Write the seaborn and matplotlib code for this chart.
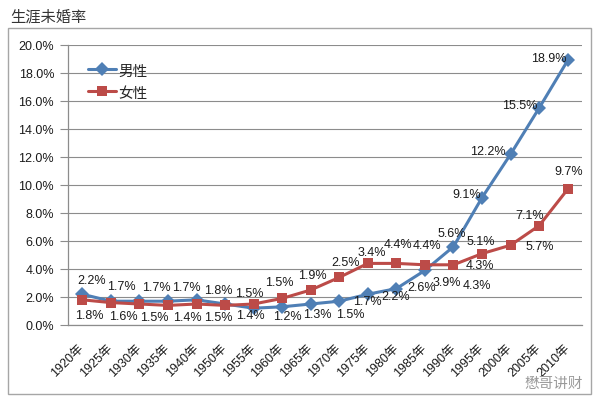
import matplotlib
matplotlib.use("Agg")
import matplotlib.pyplot as plt
from matplotlib.patches import Rectangle
import seaborn as sns
import pandas as pd

# ---- data ----
years = ['1920年', '1925年', '1930年', '1935年', '1940年', '1950年', '1955年', '1960年',
         '1965年', '1970年', '1975年', '1980年', '1985年', '1990年', '1995年', '2000年',
         '2005年', '2010年']
male = [2.2, 1.7, 1.7, 1.7, 1.8, 1.5, 1.2, 1.3, 1.5, 1.7, 2.2, 2.6, 3.9, 5.6, 9.1, 12.2, 15.5, 18.9]
female = [1.8, 1.6, 1.5, 1.4, 1.5, 1.4, 1.5, 1.9, 2.5, 3.4, 4.4, 4.4, 4.3, 4.3, 5.1, 5.7, 7.1, 9.7]
series_names = ['男性', '女性']
yticks = [0, 2, 4, 6, 8, 10, 12, 14, 16, 18, 20]
title = '生涯未婚率'
watermark = '懋哥讲财'

# ---- label placement (pixels, dx right / dy down) ----
male_dx = [9, 11, 17, 18, 22, 24, 34, 35, 40, 28, 28, 25, 22, -2, -15, -23, -19, -19]
male_dy = [-14, -15, -14, -14, -10, -11, 8, 7, 10, 0, 2, -2, 12, -14, -4, -3, -3, -2]
female_dx = [7, 13, 15, 19, 22, 25, 26, 30, 35, 33, 30, 31, 52, 26, -1, 29, -10, 1]
female_dy = [15, 13, 13, 12, 13, 10, -22, -23, -28, -25, -19, -18, 20, 0, -13, 1, -11, -18]

sns.set_style('white')
plt.rcParams['font.family'] = ['Liberation Sans', 'Noto Sans CJK SC']
plt.rcParams['axes.unicode_minus'] = False

W, H = 605, 410
fig = plt.figure(figsize=(W / 100, H / 100), dpi=100)
ax = fig.add_axes([68 / W, 1 - 326 / H, (582 - 68) / W, (326 - 46) / H])

n = len(years)
df = pd.DataFrame({
    'idx': list(range(n)) * 2,
    'value': male + female,
    'sex': [series_names[0]] * n + [series_names[1]] * n,
})

blue = '#4F7FB5'
red = '#BC4B48'
sns.lineplot(data=df, x='idx', y='value', hue='sex', style='sex',
             hue_order=series_names, style_order=series_names,
             palette=[blue, red], markers=['D', 's'], dashes=False,
             linewidth=2.2, markersize=7, markeredgewidth=0, ax=ax)

ax.set_xlim(-0.5, n - 0.5)
ax.set_ylim(0, 20)
ax.set_xlabel('')
ax.set_ylabel('')

grid_c = '#8C8C8C'
ax.set_yticks(yticks)
ax.set_yticklabels([f'{v:.1f}%' for v in yticks], fontsize=9, color='#1a1a1a')
ax.yaxis.grid(True, color=grid_c, linewidth=0.8)
ax.xaxis.grid(False)
ax.set_axisbelow(True)

ax.set_xticks(range(n))
ax.set_xticklabels(years, fontsize=9, color='#1a1a1a', rotation=45,
                   ha='right', va='center', rotation_mode='anchor')
ax.set_xticks([i - 0.5 for i in range(n + 1)], minor=True)
ax.tick_params(axis='x', which='major', length=0, pad=15)
ax.tick_params(axis='x', which='minor', length=5, color=grid_c, width=0.8, direction='out')
ax.tick_params(axis='y', length=6, color=grid_c, width=0.8, direction='out', pad=4, left=True)

for s in ['top', 'right']:
    ax.spines[s].set_visible(False)
for s in ['left', 'bottom']:
    ax.spines[s].set_color(grid_c)
    ax.spines[s].set_linewidth(0.9)

# data labels
for vals, dxs, dys in [(male, male_dx, male_dy), (female, female_dx, female_dy)]:
    for i, v in enumerate(vals):
        ax.annotate(f'{v:.1f}%', (i, v), xytext=(dxs[i], -dys[i]),
                    textcoords='offset pixels', ha='center', va='center',
                    fontsize=9, color='#1a1a1a', zorder=5)

# legend
handles, labels = ax.get_legend_handles_labels()
ax.legend(handles, labels, loc='center left',
          bbox_to_anchor=(88 / W, 1 - 82.5 / H), bbox_transform=fig.transFigure,
          frameon=False, fontsize=10.5, handlelength=1.9, handletextpad=0.15,
          labelspacing=0.55, borderpad=0, borderaxespad=0)

# chart border and title
fig.patches.append(Rectangle((8 / W, 1 - 395 / H), (591 - 8) / W, (395 - 29) / H,
                             transform=fig.transFigure, fill=False,
                             edgecolor='#A6A6A6', linewidth=1.0))
fig.text(10 / W, 1 - 17.5 / H, title, fontsize=11, color='#333333',
         ha='left', va='center')
fig.text(583 / W, 1 - 384 / H, watermark, fontsize=10.5, color='#9a9a9a',
         ha='right', va='center')

fig.savefig('out.png', dpi=100)
